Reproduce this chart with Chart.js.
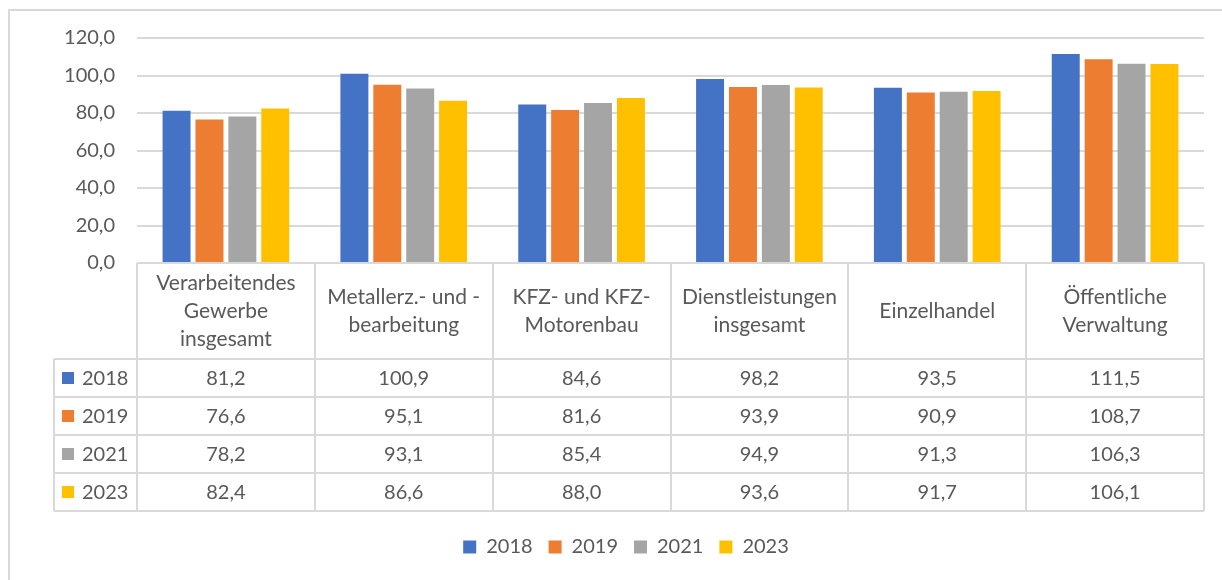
<!DOCTYPE html>
<html>
<head>
<meta charset="utf-8">
<script src="https://cdn.jsdelivr.net/npm/chart.js@4.4.0/dist/chart.umd.min.js"></script>
<style>
html,body{margin:0;padding:0;background:#fff;}
#wrap{width:1222px;height:580px;position:relative;}
</style>
</head>
<body>
<div id="wrap"><canvas id="c" width="1222" height="580"></canvas></div>
<script>
const categories = [
  ["Verarbeitendes", "Gewerbe", "insgesamt"],
  ["Metallerz.- und -", "bearbeitung"],
  ["KFZ- und KFZ-", "Motorenbau"],
  ["Dienstleistungen", "insgesamt"],
  ["Einzelhandel"],
  ["Öffentliche", "Verwaltung"]
];
const seriesNames = ["2018", "2019", "2021", "2023"];
const values2018 = [81.2, 100.9, 84.6, 98.2, 93.5, 111.5];
const values2019 = [76.6, 95.1, 81.6, 93.9, 90.9, 108.7];
const values2021 = [78.2, 93.1, 85.4, 94.9, 91.3, 106.3];
const values2023 = [82.4, 86.6, 88.0, 93.6, 91.7, 106.1];
const seriesColors = ["#4472C4", "#ED7D31", "#A5A5A5", "#FFC000"];
const yMin = 0, yMax = 120, yStep = 20;

const FONT = "Lato, 'Open Sans', sans-serif";
const TEXT = "#595959";
const LINE = "#d9d9d9";
const fmt = v => v.toFixed(1).replace('.', ',');

const allSeries = [values2018, values2019, values2021, values2023];
const TABLE_H = 248;

const frame = {
  id: 'frame',
  beforeDraw(chart) {
    const ctx = chart.ctx;
    ctx.save();
    ctx.fillStyle = '#fff';
    ctx.fillRect(0, 0, chart.width, chart.height);
    ctx.strokeStyle = LINE;
    ctx.lineWidth = 2;
    ctx.beginPath();
    ctx.moveTo(9, chart.height);
    ctx.lineTo(9, 10);
    ctx.lineTo(chart.width, 10);
    ctx.stroke();
    ctx.restore();
  }
};

const dataTable = {
  id: 'dataTable',
  afterDraw(chart) {
    const ctx = chart.ctx;
    const xs = chart.scales.x;
    const area = chart.chartArea;
    const top = area.bottom;
    const bottom = top + TABLE_H;
    const n = categories.length;
    const headerH = 96;
    const rowH = (bottom - top - headerH) / seriesNames.length;
    const colW = (area.right - area.left) / n;
    const legLeft = 54;
    ctx.save();
    ctx.strokeStyle = LINE;
    ctx.lineWidth = 2;
    ctx.beginPath();
    ctx.moveTo(area.left, top); ctx.lineTo(area.right, top);
    for (let i = 0; i <= n; i++) {
      const x = Math.round(xs.getPixelForValue(0) - colW / 2 + i * colW);
      ctx.moveTo(x, top); ctx.lineTo(x, bottom);
    }
    for (let r = 0; r <= seriesNames.length; r++) {
      const y = Math.round(top + headerH + r * rowH);
      ctx.moveTo(legLeft, y); ctx.lineTo(area.right, y);
    }
    ctx.moveTo(legLeft, top + headerH); ctx.lineTo(legLeft, bottom);
    ctx.stroke();

    ctx.fillStyle = TEXT;
    ctx.font = "21px " + FONT;
    ctx.textAlign = 'center';
    ctx.textBaseline = 'middle';
    const lh = 28;
    categories.forEach((lab, i) => {
      const cx = xs.getPixelForValue(i);
      const cy = top + headerH / 2;
      const lines = Array.isArray(lab) ? lab : [lab];
      lines.forEach((t, k) => {
        ctx.fillText(t, cx, cy + (k - (lines.length - 1) / 2) * lh);
      });
    });
    ctx.font = "20px " + FONT;
    seriesNames.forEach((name, r) => {
      const cy = top + headerH + (r + 0.5) * rowH;
      allSeries[r].forEach((v, i) => {
        ctx.fillStyle = TEXT;
        ctx.textAlign = 'center';
        ctx.fillText(fmt(v), xs.getPixelForValue(i), cy + 1);
      });
      ctx.fillStyle = seriesColors[r];
      ctx.fillRect(62, Math.round(cy - 6), 12, 12);
      ctx.fillStyle = TEXT;
      ctx.textAlign = 'left';
      ctx.fillText(name, 82, cy + 1);
    });
    ctx.restore();
  }
};

new Chart(document.getElementById('c'), {
  type: 'bar',
  data: {
    labels: categories,
    datasets: seriesNames.map((name, i) => ({
      label: name,
      data: allSeries[i],
      backgroundColor: seriesColors[i],
      borderWidth: 0,
      categoryPercentage: 0.74,
      barPercentage: 0.85
    }))
  },
  options: {
    responsive: false,
    animation: false,
    devicePixelRatio: 1,
    layout: { padding: { top: 38, right: 18, left: 48, bottom: 13 } },
    plugins: {
      legend: {
        position: 'bottom',
        labels: {
          boxWidth: 13, boxHeight: 13, padding: 16,
          color: TEXT, font: { family: FONT, size: 20 }
        }
      },
      tooltip: { enabled: false },
      title: { display: false }
    },
    scales: {
      x: {
        ticks: { display: false },
        grid: { display: false },
        border: { display: false },
        afterFit(scale) { scale.height = TABLE_H + 10; }
      },
      y: {
        min: yMin, max: yMax,
        ticks: {
          stepSize: yStep, padding: 22, color: TEXT,
          font: { family: FONT, size: 20 },
          callback: v => fmt(v)
        },
        grid: { color: LINE, lineWidth: 2, drawTicks: false },
        border: { display: false },
        afterFit(scale) { scale.width = 89; }
      }
    }
  },
  plugins: [frame, dataTable]
});
</script>
</body>
</html>
